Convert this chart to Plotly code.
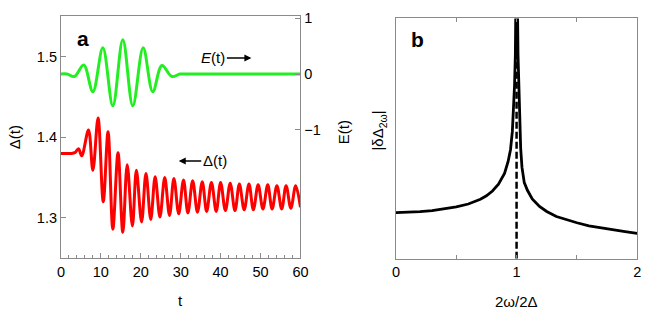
import plotly.graph_objects as go

# ---------------- data ----------------
# panel a: gap Delta(t) (left axis) – extrema
delta_t = [0.0, 2.5, 3.5, 4.4, 5.2, 6.9, 8.0, 9.3, 10.6, 11.8, 13.0, 14.3, 15.5,
           16.6, 17.9, 18.9, 20.2, 21.3, 22.5, 23.6, 24.8, 26.0, 27.2, 28.3, 29.5,
           30.7, 31.8, 33.0, 34.2, 35.4, 36.5, 37.7, 38.9, 40.0, 41.2, 42.4, 43.6,
           44.7, 45.9, 47.1, 48.2, 49.4, 50.6, 51.8, 52.9, 54.1, 55.3, 56.4, 57.6,
           58.8, 60.0]
delta_v = [1.380, 1.380, 1.381, 1.386, 1.377, 1.409, 1.359, 1.424, 1.320, 1.407, 1.286, 1.381, 1.282,
           1.366, 1.290, 1.359, 1.295, 1.355, 1.298, 1.351, 1.301, 1.350, 1.303, 1.349, 1.305,
           1.347, 1.306, 1.346, 1.307, 1.345, 1.308, 1.344, 1.308, 1.344, 1.309, 1.343, 1.309,
           1.342, 1.310, 1.342, 1.310, 1.341, 1.311, 1.341, 1.311, 1.340, 1.311, 1.340, 1.312,
           1.340, 1.313]

# panel a: pump field E(t) (right axis)
field_t = [0.0, 1.5, 3.4, 5.7, 8.0, 10.5, 13.0, 15.5, 18.0, 20.6, 23.0, 25.3, 27.8, 29.8, 31.0, 60.0]
field_v = [0.0, 0.0, -0.045, 0.163, -0.316, 0.467, -0.568, 0.614, -0.568, 0.467, -0.316, 0.151, -0.045, 0.0, 0.0, 0.0]

# panel b: response |delta Delta_2w| vs 2w/2Delta
resp_x = [0.0, 0.1, 0.2, 0.3, 0.4, 0.5, 0.6, 0.7, 0.75, 0.8, 0.85, 0.9, 0.93, 0.95, 0.965,
          0.975, 0.983, 0.99, 1.0, 1.012, 1.018, 1.025, 1.034, 1.045, 1.064, 1.09, 1.13,
          1.19, 1.25, 1.33, 1.42, 1.5, 1.6, 1.7, 1.8, 1.9, 2.0]
resp_y = [0.192, 0.193, 0.196, 0.200, 0.207, 0.216, 0.228, 0.248, 0.262, 0.282, 0.310, 0.355, 0.405, 0.455, 0.53,
          0.61, 0.72, 0.85, 1.40, 0.85, 0.72, 0.60, 0.46, 0.38, 0.317, 0.285, 0.249,
          0.218, 0.197, 0.176, 0.161, 0.150, 0.137, 0.128, 0.120, 0.113, 0.106]

resonance_x = [1.0, 1.0]
resonance_y = [0.0, 1.0]

xa_ticks = [0, 10, 20, 30, 40, 50, 60]
delta_ticks = [1.3, 1.4, 1.5]
field_ticks = [-1, 0, 1]
field_ticklabels = ["\u22121", "0", "1"]
xb_ticks = [0, 1, 2]
xb_minor_step = 0.5

# ---------------- layout helpers ----------------
W, H = 654, 315
FONT = "Liberation Sans, Arial, Helvetica, sans-serif"
AX = "#8a8a8a"


def px(x):
    return x / W


def py(y):
    return 1 - y / H


fig = go.Figure()

fig.add_trace(go.Scatter(x=field_t, y=field_v, mode="lines", xaxis="x", yaxis="y2",
                         line=dict(color="#22ee22", width=3, shape="spline", smoothing=1.0),
                         showlegend=False, hoverinfo="skip"))
fig.add_trace(go.Scatter(x=delta_t, y=delta_v, mode="lines", xaxis="x", yaxis="y",
                         line=dict(color="#ff0000", width=3, shape="spline", smoothing=1.0),
                         showlegend=False, hoverinfo="skip"))
fig.add_trace(go.Scatter(x=resonance_x, y=resonance_y, mode="lines", xaxis="x2", yaxis="y3",
                         line=dict(color="black", width=2.5, dash="7px,3px"),
                         showlegend=False, hoverinfo="skip"))
fig.add_trace(go.Scatter(x=resp_x, y=resp_y, mode="lines", xaxis="x2", yaxis="y3",
                         line=dict(color="black", width=2.8),
                         showlegend=False, hoverinfo="skip"))

tickfont = dict(family=FONT, size=14.5, color="black")

fig.update_layout(
    width=W, height=H,
    margin=dict(l=0, r=0, t=0, b=0),
    paper_bgcolor="white", plot_bgcolor="white",
    font=dict(family=FONT, color="black"),
    xaxis=dict(domain=[px(58), px(302)], range=[0, 60], tickvals=xa_ticks,
               ticks="inside", ticklen=5, tickcolor=AX, tickwidth=1,
               minor=dict(dtick=2, ticks="inside", ticklen=3, tickcolor=AX),
               showline=True, linecolor=AX, linewidth=1, mirror=True,
               showgrid=False, zeroline=False, tickfont=tickfont, anchor="y"),
    yaxis=dict(domain=[py(257), py(10)], range=[1.25, 1.551], tickvals=delta_ticks,
               tickformat=".1f", ticks="inside", ticklen=5, tickcolor=AX,
               showline=True, linecolor=AX, linewidth=1,
               showgrid=False, zeroline=False, tickfont=tickfont, anchor="x"),
    yaxis2=dict(overlaying="y", side="right", range=[-3.29, 1.04], tickvals=field_ticks,
                ticktext=field_ticklabels, ticks="inside", ticklen=5, tickcolor=AX,
                showline=True, linecolor=AX, linewidth=1,
                showgrid=False, zeroline=False, tickfont=tickfont, anchor="x"),
    xaxis2=dict(domain=[px(399.3), px(645)], range=[0, 2], tickvals=xb_ticks,
                ticks="inside", ticklen=4, tickcolor=AX,
                minor=dict(dtick=xb_minor_step, tick0=0, ticks="inside", ticklen=4, tickcolor=AX),
                showline=True, linecolor=AX, linewidth=1, mirror="allticks",
                showgrid=False, zeroline=False, tickfont=tickfont, anchor="y3"),
    yaxis3=dict(domain=[py(257.7), py(12.7)], range=[0, 1], showticklabels=False,
                ticks="", showline=True, linecolor=AX, linewidth=1, mirror=True,
                showgrid=False, zeroline=False, anchor="x2"),
)

lab = dict(family=FONT, size=15, color="black")
ann = [
    dict(x=px(80), y=py(33), text="<b>a</b>", font=dict(family=FONT, size=21, color="black")),
    dict(x=px(421), y=py(34), text="<b>b</b>", font=dict(family=FONT, size=21, color="black")),
    dict(x=px(11), y=py(134), text="\u0394(t)", textangle=-90, font=lab),
    dict(x=px(346), y=py(129), text="E(t)", textangle=-90, font=lab),
    dict(x=px(382), y=py(127), text="|\u03b4\u0394<sub>2\u03c9</sub>|", textangle=-90, font=lab),
    dict(x=px(180), y=py(300), text="t", font=lab),
    dict(x=px(522), y=py(301), text="2\u03c9/2\u0394", font=lab),
]
for a in ann:
    a.update(xref="paper", yref="paper", showarrow=False, xanchor="center", yanchor="middle")
    fig.add_annotation(**a)

# curve labels with arrows (text sits at the arrow tail)
fig.add_annotation(x=px(252), y=py(53), xref="paper", yref="paper", ax=-38, ay=0,
                   text="<i>E</i>(t)", font=lab, showarrow=True, arrowhead=2, arrowsize=1,
                   arrowwidth=1.4, arrowcolor="black", standoff=0, startstandoff=0)
fig.add_annotation(x=px(178), y=py(158), xref="paper", yref="paper", ax=36, ay=0,
                   text="\u0394(t)", font=lab, showarrow=True, arrowhead=2, arrowsize=1,
                   arrowwidth=1.4, arrowcolor="black", standoff=0, startstandoff=0)

fig.write_html("out.html", config={"displayModeBar": False},
               post_script="document.body.style.margin='0';document.body.style.overflow='hidden';")
